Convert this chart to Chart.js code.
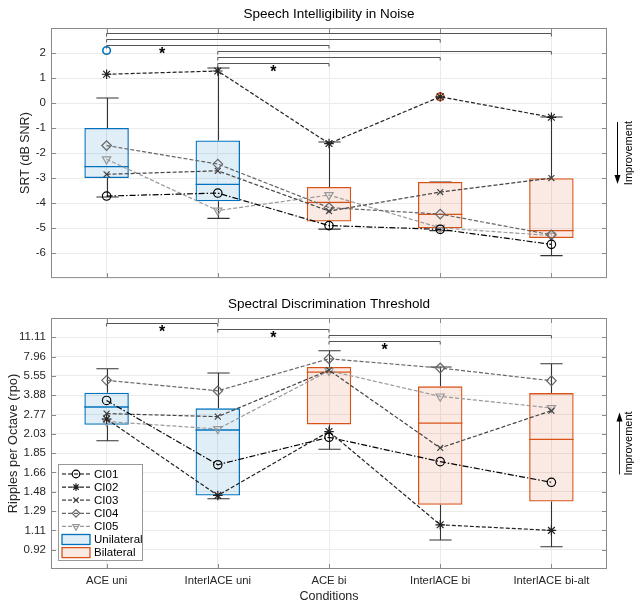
<!doctype html>
<html lang="en">
<head>
<meta charset="utf-8">
<title>Speech intelligibility and spectral discrimination</title>
<script src="https://cdn.jsdelivr.net/npm/chart.js@4"></script>
<style>
  body { margin: 0; background: #fff; }
  #wrap { position: relative; width: 634px; height: 606px; }
  canvas { position: absolute; left: 0; }
</style>
</head>
<body>
<div id="wrap">
  <canvas id="srt" width="634" height="290" style="top:0"></canvas>
  <canvas id="rpo" width="634" height="316" style="top:290px"></canvas>
</div>
<script>
const conditions = ['ACE uni', 'InterlACE uni', 'ACE bi', 'InterlACE bi', 'InterlACE bi-alt'];
const groups = ['Unilateral', 'Unilateral', 'Bilateral', 'Bilateral', 'Bilateral'];
const subjects = ['CI01', 'CI02', 'CI03', 'CI04', 'CI05'];

// speech intelligibility (SRT, dB SNR)
const srtTicks = [-6, -5, -4, -3, -2, -1, 0, 1, 2];
const srtQ1 = [-3.0, -3.93, -4.74, -5.01, -5.4];
const srtQ3 = [-1.0, -1.5, -3.36, -3.16, -3.01];
const srtMedian = [-2.54, -3.25, -3.97, -4.45, -5.1];
const srtWhiskerLow = [-3.76, -4.61, -5.04, -5.1, -6.1];
const srtWhiskerHigh = [0.2, 1.4, -1.56, -3.16, -0.56];
const srtOutliers = [[2.1], [], [], [0.25], []];
const srtCI01 = [-3.72, -3.6, -4.9, -5.05, -5.65];
const srtCI02 = [1.15, 1.28, -1.62, 0.25, -0.57];
const srtCI03 = [-2.85, -2.71, -4.32, -3.56, -3.0];
const srtCI04 = [-1.7, -2.44, -4.18, -4.44, -5.27];
const srtCI05 = [-2.25, -4.3, -3.68, -4.99, -5.3];
const srtPairs = [[0, 4], [0, 3], [0, 2], [1, 4], [1, 3], [1, 2]];
const srtStars = [false, false, true, false, false, true];

// spectral discrimination (ripples per octave, plotted on tick-index positions)
const rpoTickLabels = ['0.92', '1.11', '1.29', '1.48', '1.66', '1.85', '2.03', '2.77', '3.88', '5.55', '7.96', '11.11'];
const rpoQ1 = [6.47, 2.81, 6.49, 2.33, 2.49];
const rpoQ3 = [8.13, 7.32, 9.46, 8.46, 8.11];
const rpoMedian = [7.39, 6.2, 9.2, 6.56, 5.71];
const rpoWhiskerLow = [5.64, 2.64, 5.2, 0.5, 0.15];
const rpoWhiskerHigh = [9.37, 9.15, 10.3, 9.46, 9.63];
const rpoOutliers = [[], [], [], [], []];
const rpoCI01 = [7.73, 4.4, 5.82, 4.56, 3.49];
const rpoCI02 = [6.77, 2.81, 6.12, 1.29, 1.0];
const rpoCI03 = [7.05, 6.89, 9.3, 5.27, 7.2];
const rpoCI04 = [8.77, 8.23, 9.89, 9.41, 8.75];
const rpoCI05 = [6.64, 6.25, 9.27, 7.94, 7.34];
const rpoPairs = [[0, 1], [1, 2], [2, 4], [2, 3]];
const rpoStars = [true, true, false, true];

const FONT = '"Liberation Sans", Arial, Helvetica, sans-serif';
const UNI = { edge: '#0072BD', fill: 'rgba(0,114,189,0.12)' };
const BI = { edge: '#D95319', fill: 'rgba(217,83,25,0.12)' };
const lineLook = [
  { color: '#000', dash: [6, 2, 1.5, 2], style: 'circle', r: 4.2, rot: 0 },
  { color: '#222', dash: [4, 2], style: 'star', r: 4.8, rot: 0 },
  { color: '#444', dash: [4, 2], style: 'crossRot', r: 4.2, rot: 0 },
  { color: '#666', dash: [4, 2], style: 'rectRot', r: 4.8, rot: 0 },
  { color: '#999', dash: [4, 2], style: 'triangle', r: 4.8, rot: 180 }
];

function marker(ctx, style, r, rot, x, y) {
  if (Chart.helpers && Chart.helpers.drawPoint) {
    Chart.helpers.drawPoint(ctx, { pointStyle: style, radius: r, rotation: rot, borderWidth: 1 }, x, y);
  } else {
    ctx.beginPath(); ctx.arc(x, y, r, 0, Math.PI * 2); ctx.stroke();
  }
}

function extras(s) {
  return {
    id: 'extras',
    beforeDatasetsDraw(chart) {
      const { ctx, scales: { x, y } } = chart;
      const bars = chart.getDatasetMeta(0).data;
      ctx.save();
      ctx.strokeStyle = '#333';
      ctx.lineWidth = 1.1;
      s.low.forEach((lo, i) => {
        const cx = Math.round(x.getPixelForValue(i)) + 0.5;
        const cap = bars[i].width / 4;
        [[s.q3[i], s.high[i]], [s.q1[i], lo]].forEach(([from, to]) => {
          const y0 = y.getPixelForValue(from), y1 = y.getPixelForValue(to);
          ctx.beginPath();
          ctx.moveTo(cx, y0); ctx.lineTo(cx, y1);
          ctx.moveTo(cx - cap, y1); ctx.lineTo(cx + cap, y1);
          ctx.stroke();
        });
      });
      ctx.restore();
    },
    afterDatasetDraw(chart, args) {
      if (args.index !== 0) return;
      const { ctx, scales: { x, y } } = chart;
      const bars = chart.getDatasetMeta(0).data;
      ctx.save();
      s.median.forEach((m, i) => {
        const c = groups[i] === 'Unilateral' ? UNI : BI;
        const cx = x.getPixelForValue(i), hw = bars[i].width / 2;
        const py = y.getPixelForValue(m);
        ctx.strokeStyle = c.edge; ctx.lineWidth = 1.3;
        ctx.beginPath(); ctx.moveTo(cx - hw, py); ctx.lineTo(cx + hw, py); ctx.stroke();
        s.outliers[i].forEach(v => {
          ctx.lineWidth = 1.6;
          ctx.beginPath(); ctx.arc(cx, y.getPixelForValue(v), 3.8, 0, Math.PI * 2); ctx.stroke();
        });
      });
      ctx.restore();
    },
    afterDraw(chart) {
      const { ctx, chartArea: ca, scales: { x, y } } = chart;
      const cxm = (ca.left + ca.right) / 2, cym = (ca.top + ca.bottom) / 2;
      ctx.save();
      // frame and inward ticks
      ctx.strokeStyle = '#8a8a8a'; ctx.lineWidth = 1;
      ctx.strokeRect(ca.left + 0.5, ca.top + 0.5, ca.right - ca.left - 1, ca.bottom - ca.top - 1);
      ctx.beginPath();
      s.ticks.forEach(v => {
        const py = Math.round(y.getPixelForValue(v)) + 0.5;
        ctx.moveTo(ca.left, py); ctx.lineTo(ca.left + 5, py);
        ctx.moveTo(ca.right, py); ctx.lineTo(ca.right - 5, py);
      });
      conditions.forEach((c, i) => {
        const px = Math.round(x.getPixelForValue(i)) + 0.5;
        ctx.moveTo(px, ca.bottom); ctx.lineTo(px, ca.bottom - 5);
        ctx.moveTo(px, ca.top); ctx.lineTo(px, ca.top + 5);
      });
      ctx.stroke();

      // titles
      ctx.fillStyle = '#000';
      ctx.textAlign = 'center'; ctx.textBaseline = 'middle';
      ctx.font = '13.5px ' + FONT;
      ctx.fillText(s.title, cxm, 14);
      ctx.font = '12.5px ' + FONT;
      ctx.fillStyle = '#262626';
      if (s.xTitle) ctx.fillText(s.xTitle, cxm, 307);
      ctx.save();
      ctx.translate(s.yTitleX, cym); ctx.rotate(-Math.PI / 2);
      ctx.font = s.yTitleSize + 'px ' + FONT;
      ctx.fillText(s.yTitle, 0, 0);
      ctx.restore();

      // significance brackets
      s.pairs.forEach(([a, b], j) => {
        const yy = Math.round(ca.top + 5 + j * 6) + 0.5;
        const xa = x.getPixelForValue(a), xb = x.getPixelForValue(b);
        ctx.strokeStyle = '#555'; ctx.lineWidth = 1;
        ctx.beginPath();
        ctx.moveTo(xa, yy + 3); ctx.lineTo(xa, yy); ctx.lineTo(xb, yy); ctx.lineTo(xb, yy + 3);
        ctx.stroke();
        if (s.stars[j]) {
          ctx.fillStyle = '#000';
          ctx.font = 'bold 16px ' + FONT;
          ctx.fillText('*', (xa + x.getPixelForValue(a + 1)) / 2, yy + 9.5);
        }
      });

      // improvement arrow
      const ax = ca.right + s.arrowDx + 0.5;
      const down = s.arrowDir === 'down';
      const yStart = down ? cym - 31 : cym + 31, yEnd = down ? cym + 31 : cym - 31;
      const dir = down ? 1 : -1;
      ctx.strokeStyle = down ? '#000' : '#333'; ctx.fillStyle = '#000'; ctx.lineWidth = 1;
      ctx.beginPath(); ctx.moveTo(ax, yStart); ctx.lineTo(ax, yEnd - dir * 6); ctx.stroke();
      ctx.beginPath();
      ctx.moveTo(ax, yEnd); ctx.lineTo(ax - 3, yEnd - dir * 9); ctx.lineTo(ax + 3, yEnd - dir * 9);
      ctx.closePath(); ctx.fill();
      ctx.save();
      ctx.translate(ca.right + 22, cym); ctx.rotate(-Math.PI / 2);
      ctx.font = '11px ' + FONT; ctx.fillStyle = '#000';
      ctx.fillText('Improvement', 0, 0);
      ctx.restore();

      // legend
      if (s.legend) {
        const lx = ca.left + 7, lw = 84, lh = 96;
        const ly = ca.bottom - 9 - lh;
        ctx.fillStyle = '#fff'; ctx.strokeStyle = '#999'; ctx.lineWidth = 1;
        ctx.fillRect(lx, ly, lw, lh);
        ctx.strokeRect(Math.round(lx) + 0.5, Math.round(ly) + 0.5, lw, lh);
        ctx.textAlign = 'left'; ctx.font = '11.5px ' + FONT;
        const rowY = k => ly + 10 + k * 13.1;
        subjects.forEach((name, k) => {
          const L = lineLook[k], ry = rowY(k);
          ctx.strokeStyle = L.color; ctx.lineWidth = 1.2;
          ctx.setLineDash([4, 2]);
          ctx.beginPath(); ctx.moveTo(lx + 4, ry); ctx.lineTo(lx + 32, ry); ctx.stroke();
          ctx.setLineDash([]);
          ctx.fillStyle = 'rgba(0,0,0,0)';
          marker(ctx, L.style, 3.8, L.rot, lx + 18, ry);
          ctx.fillStyle = '#000';
          ctx.fillText(name, lx + 36, ry + 0.5);
        });
        [['Unilateral', UNI], ['Bilateral', BI]].forEach(([name, c], k) => {
          const ry = rowY(5 + k);
          ctx.fillStyle = '#fff'; ctx.fillRect(lx + 4, ry - 5, 28, 10);
          ctx.fillStyle = c.fill; ctx.fillRect(lx + 4, ry - 5, 28, 10);
          ctx.strokeStyle = c.edge; ctx.lineWidth = 1.3;
          ctx.strokeRect(lx + 4, ry - 5, 28, 10);
          ctx.fillStyle = '#000';
          ctx.fillText(name, lx + 36, ry + 0.5);
        });
      }
      ctx.restore();
    }
  };
}

function buildChart(canvasId, s) {
  const looks = groups.map(g => g === 'Unilateral' ? UNI : BI);
  const datasets = [{
    type: 'bar',
    label: 'box',
    data: s.q1.map((v, i) => [v, s.q3[i]]),
    backgroundColor: looks.map(c => c.fill),
    borderColor: looks.map(c => c.edge),
    borderWidth: 1.3,
    borderSkipped: false,
    barPercentage: 0.4,
    categoryPercentage: 1,
    order: 10
  }];
  s.series.forEach((vals, k) => {
    const L = lineLook[k];
    datasets.push({
      type: 'line', label: subjects[k], data: vals,
      borderColor: L.color, borderWidth: 1.2, borderDash: L.dash,
      pointStyle: L.style, pointRadius: L.r, pointRotation: L.rot,
      pointBorderColor: L.color, pointBackgroundColor: 'rgba(0,0,0,0)', pointBorderWidth: 1.2,
      fill: false, tension: 0, order: k
    });
  });
  return new Chart(document.getElementById(canvasId), {
    type: 'bar',
    data: { labels: conditions, datasets },
    options: {
      responsive: false, animation: false, events: [],
      layout: { padding: { left: 0, right: 27, top: 28, bottom: s.padBottom } },
      plugins: { legend: { display: false }, tooltip: { enabled: false } },
      scales: {
        x: {
          type: 'category', offset: true,
          grid: { offset: false, color: '#ebebeb', drawTicks: false },
          border: { display: false },
          ticks: { display: s.xLabels, color: '#262626', font: { family: FONT, size: 11.3 }, padding: 5, maxRotation: 0 },
          afterFit: sc => { sc.height = s.xHeight; }
        },
        y: {
          type: 'linear', min: s.min, max: s.max,
          grid: { color: '#ebebeb', drawTicks: false },
          border: { display: false },
          afterBuildTicks: sc => { sc.ticks = s.ticks.map(v => ({ value: v })); },
          ticks: { color: '#262626', font: { family: FONT, size: 11.5 }, padding: 5, callback: s.tickLabel },
          afterFit: sc => { sc.width = 51; }
        }
      }
    },
    plugins: [extras(s)]
  });
}

buildChart('srt', {
  title: 'Speech Intelligibility in Noise', yTitle: 'SRT (dB SNR)', yTitleX: 26, yTitleSize: 12.5, xTitle: null,
  min: -7, max: 3, ticks: srtTicks, tickLabel: v => String(v),
  q1: srtQ1, q3: srtQ3, median: srtMedian, low: srtWhiskerLow, high: srtWhiskerHigh, outliers: srtOutliers,
  series: [srtCI01, srtCI02, srtCI03, srtCI04, srtCI05],
  pairs: srtPairs, stars: srtStars,
  xLabels: false, xHeight: 0, padBottom: 11,
  arrowDir: 'down', arrowDx: 10, legend: false
});

buildChart('rpo', {
  title: 'Spectral Discrimination Threshold', yTitle: 'Ripples per Octave (rpo)', yTitleX: 13, yTitleSize: 12.8, xTitle: 'Conditions',
  min: -1, max: 12, ticks: rpoTickLabels.map((t, i) => i), tickLabel: v => rpoTickLabels[v],
  q1: rpoQ1, q3: rpoQ3, median: rpoMedian, low: rpoWhiskerLow, high: rpoWhiskerHigh, outliers: rpoOutliers,
  series: [rpoCI01, rpoCI02, rpoCI03, rpoCI04, rpoCI05],
  pairs: rpoPairs, stars: rpoStars,
  xLabels: true, xHeight: 37, padBottom: 0,
  arrowDir: 'up', arrowDx: 12, legend: true
});
</script>
</body>
</html>
